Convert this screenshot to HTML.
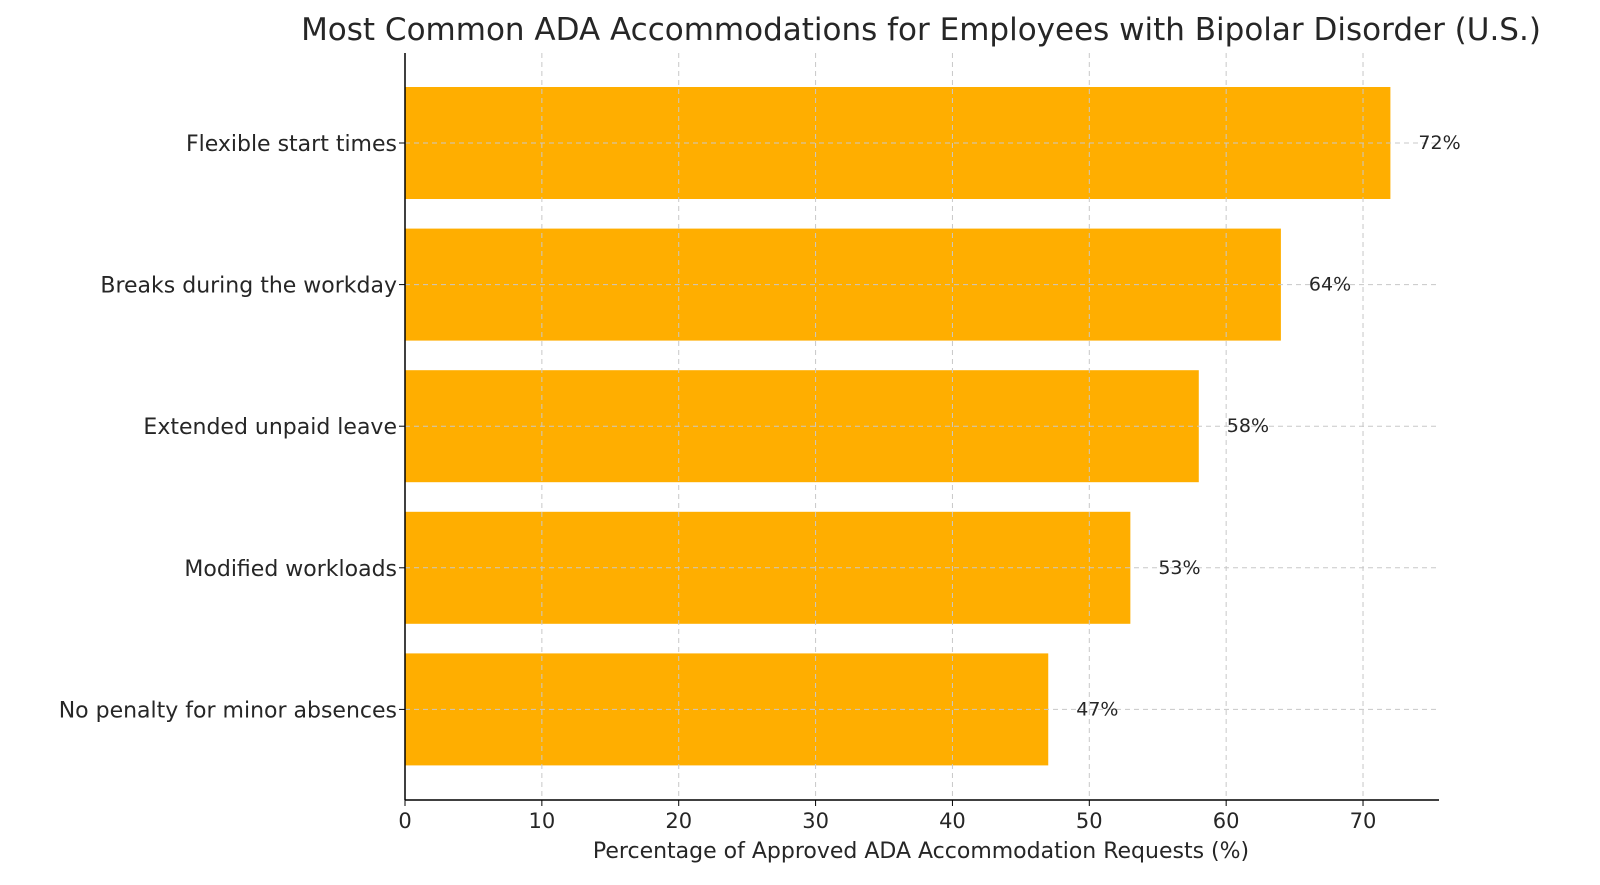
<!DOCTYPE html>
<html><head><meta charset="utf-8"><style>
body{margin:0;background:#fff;width:1600px;height:880px;overflow:hidden}
svg{font-family:"DejaVu Sans","Liberation Sans",sans-serif}
</style></head><body>
<svg id="chart" width="1600" height="880">
<text x="921" y="40" text-anchor="middle" font-size="31" fill="#262626">Most Common ADA Accommodations for Employees with Bipolar Disorder (U.S.)</text>
<text x="921" y="858" text-anchor="middle" font-size="22" fill="#262626">Percentage of Approved ADA Accommodation Requests (%)</text>
<g id="bars"></g><g id="grid"></g><g id="ticks"></g><g id="labels"></g>
<line x1="405" y1="53" x2="405" y2="800" stroke="#000" stroke-width="1.5"/>
<line x1="405" y1="800" x2="1439" y2="800" stroke="#000" stroke-width="1.5"/>
</svg>
<script>
const categories=["Flexible start times","Breaks during the workday","Extended unpaid leave","Modified workloads","No penalty for minor absences"];
const values=[72,64,58,53,47];
const valueLabels=["72%","64%","58%","53%","47%"];
const xTicks=[0,10,20,30,40,50,60,70];
const NS="http://www.w3.org/2000/svg";
const x0=405,pxPer=13.686,yTop=143,step=141.6,bh=112,xEnd=1439;
const X=v=>x0+v*pxPer, Y=i=>yTop+i*step;
function mk(tag,attrs,parent){const e=document.createElementNS(NS,tag);for(const k in attrs)e.setAttribute(k,attrs[k]);document.getElementById(parent).appendChild(e);return e;}
values.forEach((v,i)=>{
 const r=mk('rect',{x:x0,y:Y(i)-bh/2,width:X(v)-x0,height:bh,fill:'#FFAE00'},'bars');
 
 
 const g=mk('line',{x1:x0,x2:xEnd,y1:Y(i),y2:Y(i),stroke:'#c8c8c8','stroke-dasharray':'5,4'},'grid');
 
 
 const t=mk('text',{x:X(v)+28,y:Y(i)+6,'font-size':19,fill:'#262626'},'labels');
 t.textContent=valueLabels[i];
 
 
 const c=mk('text',{x:397,y:Y(i)+8,'font-size':22,fill:'#262626','text-anchor':'end'},'labels');
 c.textContent=categories[i];
 
 
 const tk=mk('line',{x1:399,x2:405,y1:Y(i),y2:Y(i),stroke:'#000'},'ticks');
 
 
});
xTicks.forEach(v=>{
 if(v>0){const g=mk('line',{x1:X(v),x2:X(v),y1:53,y2:800,stroke:'#c8c8c8','stroke-dasharray':'5,4'},'grid');
 
 }
 const tk=mk('line',{x1:X(v),x2:X(v),y1:800,y2:806,stroke:'#000'},'ticks');
 
 
 const t=mk('text',{x:X(v),y:828,'font-size':21,fill:'#262626','text-anchor':'middle'},'labels');
 t.textContent=v;
 
 
});
</script>
</body></html>
